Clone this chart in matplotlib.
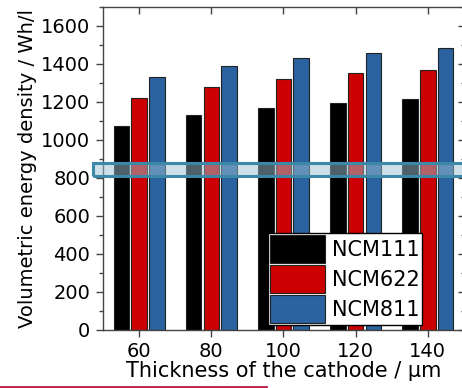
import numpy as np
import matplotlib
matplotlib.use('Agg')
import matplotlib.pyplot as plt
from matplotlib.patches import Rectangle
from matplotlib.lines import Line2D
from matplotlib.ticker import MultipleLocator

# thickness of the cathode (um) and volumetric energy density (Wh/l)
thickness = [60, 80, 100, 120, 140]
ncm111 = [1075, 1133, 1168, 1194, 1214]
ncm622 = [1221, 1280, 1319, 1350, 1369]
ncm811 = [1329, 1389, 1431, 1460, 1483]
names = ['NCM111', 'NCM622', 'NCM811']
colors = ['#000000', '#cc0000', '#2b62a0']

plt.rcParams['font.family'] = ['DejaVu Sans']
fs = 14

fig = plt.figure(figsize=(4.62, 3.88), dpi=100)
ax = fig.add_axes([0.223, 0.1495, 0.781, 0.8325])

x = np.array(thickness)
offset = 4.9
width = 4.3
for i, (vals, c) in enumerate(zip([ncm111, ncm622, ncm811], colors)):
    ax.bar(x + (i - 1) * offset, vals, width, color=c, edgecolor='#222222',
           linewidth=0.8, label=names[i], zorder=2)

ax.set_xlim(50, 150)
ax.set_ylim(0, 1700)
ax.set_xticks(thickness)
ax.yaxis.set_major_locator(MultipleLocator(200))
ax.yaxis.set_minor_locator(MultipleLocator(100))

for s in ax.spines.values():
    s.set_color('#444444')
    s.set_linewidth(1.0)

ax.tick_params(axis='both', which='major', length=5, width=1, color='#444444',
               labelsize=fs)
ax.tick_params(axis='x', pad=3.5)
ax.tick_params(axis='y', pad=4.3)
ax.tick_params(axis='y', which='minor', length=3, width=1, color='#444444')

# top and right ticks point inward
sx = ax.secondary_xaxis('top')
sx.set_xticks(thickness)
sx.tick_params(direction='in', length=5, width=1, color='#444444', labeltop=False)
sx.spines['top'].set_visible(False)
sy = ax.secondary_yaxis('right')
sy.yaxis.set_major_locator(MultipleLocator(200))
sy.yaxis.set_minor_locator(MultipleLocator(100))
sy.tick_params(which='major', direction='in', length=4, width=1, color='#444444', labelright=False)
sy.tick_params(which='minor', direction='in', length=2, width=1, color='#444444')
sy.spines['right'].set_visible(False)

ax.set_xlabel('Thickness of the cathode / µm', fontsize=15, labelpad=0)
ax.set_ylabel('Volumetric energy density / Wh/l', fontsize=fs)
ax.yaxis.set_label_coords(-0.184, 0.5)

leg = ax.legend(loc='lower left', bbox_to_anchor=(0.457, 0.0155), borderaxespad=0,
                fontsize=15, frameon=True, fancybox=False, handlelength=2.64,
                handleheight=1.69, labelspacing=0.1, handletextpad=0.34,
                borderpad=0.1)
leg.get_frame().set_edgecolor('#000000')
leg.get_frame().set_linewidth(1.0)
leg.get_frame().set_alpha(1)
leg.set_zorder(5)

# highlight band over the chart (figure coordinates)
H = 388.0
W = 462.0
band = Rectangle((93 / W, (H - 176) / H), 1.0, 13 / H, transform=fig.transFigure,
                 facecolor='#9cc0d0', alpha=0.5, edgecolor='none', zorder=10)
band_edge = Rectangle((93 / W, (H - 176) / H), 1.0, 13 / H, transform=fig.transFigure,
                      facecolor='none', edgecolor='#3b88a8', linewidth=2.2, zorder=11)
fig.patches.extend([band, band_edge])

# red underline at the bottom
fig.add_artist(Line2D([0, 266 / W], [1.3 / H, 1.3 / H], transform=fig.transFigure,
                      color='#c01f48', linewidth=2))

fig.savefig('out.png', dpi=100)
